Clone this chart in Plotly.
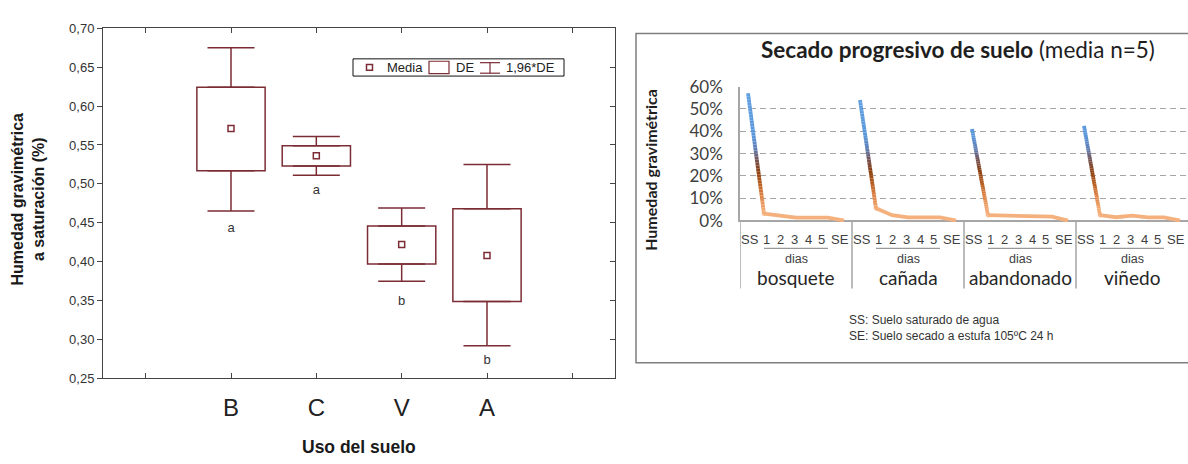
import plotly.graph_objects as go
import numpy as np

W, H = 1188, 464


def px(x):
    return x / W


def py(y):
    return 1 - y / H


# ---------------- Left panel data ----------------
uso = ["B", "C", "V", "A"]
media = [0.571, 0.536, 0.422, 0.408]
de_sup = [0.624, 0.549, 0.446, 0.468]
de_inf = [0.517, 0.523, 0.397, 0.349]
ic_sup = [0.675, 0.561, 0.469, 0.525]
ic_inf = [0.465, 0.511, 0.375, 0.292]
letras = ["a", "a", "b", "b"]
letras_y = [0.442, 0.491, 0.349, 0.273]
y_ticks = [0.25, 0.30, 0.35, 0.40, 0.45, 0.50, 0.55, 0.60, 0.65, 0.70]

# ---------------- Right panel data ----------------
grupos = ["bosquete", "cañada", "abandonado", "viñedo"]
etapas = ["SS", "1", "2", "3", "4", "5", "SE"]
bosquete = [57.0, 3.1, 2.1, 1.3, 1.3, 1.3, 0.0]
canada = [54.0, 5.5, 2.4, 1.4, 1.4, 1.4, 0.0]
abandonado = [41.0, 2.4, 2.2, 2.0, 2.0, 1.8, 0.0]
vinedo = [42.4, 2.4, 1.5, 2.2, 1.4, 1.4, 0.0]
series = [bosquete, canada, abandonado, vinedo]
pct_ticks = [0, 10, 20, 30, 40, 50, 60]

MAROON = "#7b2c34"

fig = go.Figure()

# ---- left: boxes (DE) as floating bars, whiskers (1,96*DE) as error bars
xpos = list(range(1, len(uso) + 1))
alto = [s - i for s, i in zip(de_sup, de_inf)]
fig.add_trace(go.Bar(
    x=xpos, y=alto, base=de_inf, width=0.8,
    marker=dict(color="rgba(0,0,0,0)", line=dict(color=MAROON, width=1.5)),
    xaxis="x", yaxis="y", showlegend=False, hoverinfo="skip"))
fig.add_trace(go.Scatter(
    x=xpos, y=de_sup, mode="markers", marker=dict(size=0.1, opacity=0),
    error_y=dict(type="data", symmetric=False,
                 array=[a - b for a, b in zip(ic_sup, de_sup)],
                 arrayminus=[0] * len(uso), color=MAROON, thickness=1.5, width=23.5),
    xaxis="x", yaxis="y", showlegend=False, hoverinfo="skip"))
fig.add_trace(go.Scatter(
    x=xpos, y=de_inf, mode="markers", marker=dict(size=0.1, opacity=0),
    error_y=dict(type="data", symmetric=False,
                 array=[0] * len(uso),
                 arrayminus=[b - a for a, b in zip(ic_inf, de_inf)],
                 color=MAROON, thickness=1.5, width=23.5),
    xaxis="x", yaxis="y", showlegend=False, hoverinfo="skip"))
fig.add_trace(go.Scatter(
    x=xpos, y=media, mode="markers",
    marker=dict(symbol="square-open", size=6, color=MAROON,
                line=dict(width=1.5, color=MAROON)),
    xaxis="x", yaxis="y", showlegend=False))
fig.add_trace(go.Scatter(
    x=xpos, y=letras_y, mode="text", text=letras,
    textfont=dict(family="Arial", size=13, color="#333333"),
    xaxis="x", yaxis="y", showlegend=False))
fig.add_trace(go.Scatter(x=[None], y=[None], xaxis="x", yaxis="y3",
                         showlegend=False))

# ---- right: gradient lines
stops_y = [0, 5, 11, 17, 22, 27, 32, 38, 60]
stops_rgb = np.array([
    (245, 183, 136), (242, 168, 112), (222, 132, 70), (178, 90, 30),
    (140, 64, 16), (118, 80, 78), (95, 125, 180), (88, 150, 218),
    (100, 162, 228)], dtype=float)


def grad_color(v):
    c = [np.interp(v, stops_y, stops_rgb[:, k]) for k in range(3)]
    return "rgb(%d,%d,%d)" % tuple(int(round(t)) for t in c)


LW = 3.8
n_etapas = len(etapas)
for g, vals in enumerate(series):
    xs = [g * n_etapas + i for i in range(n_etapas)]
    # steep first segment drawn in small pieces to mimic vertical gradient
    n = 40
    t = np.linspace(0, 1, n + 1)
    sx = xs[0] + (xs[1] - xs[0]) * t
    sy = vals[0] + (vals[1] - vals[0]) * t
    for k in range(n):
        fig.add_trace(go.Scatter(
            x=[sx[k], sx[k + 1]], y=[sy[k], sy[k + 1]], mode="lines",
            line=dict(color=grad_color((sy[k] + sy[k + 1]) / 2), width=LW),
            xaxis="x2", yaxis="y2", showlegend=False, hoverinfo="skip"))
    fig.add_trace(go.Scatter(
        x=xs[1:], y=vals[1:], mode="lines+markers",
        line=dict(color=grad_color(2), width=LW),
        marker=dict(size=[LW] + [0] * (n_etapas - 2), color=grad_color(vals[1])),
        xaxis="x2", yaxis="y2", showlegend=False, hoverinfo="skip"))

GRID = "#a6a6a6"
shapes = []
annotations = []

# left legend
shapes.append(dict(type="rect", xref="paper", yref="paper",
                   x0=px(353), x1=px(564), y0=py(50), y1=py(68),
                   line=dict(color="#111111", width=1)))
shapes.append(dict(type="rect", xref="paper", yref="paper",
                   x0=px(366.5), x1=px(372.5), y0=py(56), y1=py(62),
                   line=dict(color=MAROON, width=1.5)))
shapes.append(dict(type="rect", xref="paper", yref="paper",
                   x0=px(429), x1=px(449), y0=py(52.5), y1=py(65.5),
                   line=dict(color=MAROON, width=1.2)))
for (a0, b0, a1, b1) in [(480, 54, 500, 54), (490, 54, 490, 65), (480, 65, 500, 65)]:
    shapes.append(dict(type="line", xref="paper", yref="paper",
                       x0=px(a0), y0=py(b0), x1=px(a1), y1=py(b1),
                       line=dict(color=MAROON, width=1.2)))
for txt, xx in [("Media", 385), ("DE", 454), ("1,96*DE", 504)]:
    annotations.append(dict(text=txt, x=px(xx), y=py(59.5), xref="paper", yref="paper",
                            xanchor="left", yanchor="middle", showarrow=False,
                            font=dict(family="Arial", size=13, color="#222222")))

annotations.append(dict(text="<b>Uso del suelo</b>", x=px(359), y=py(456),
                        xref="paper", yref="paper", showarrow=False,
                        xanchor="center", yanchor="middle",
                        font=dict(family="Arial", size=17.5, color="#1a1a1a")))
annotations.append(dict(text="<b>Humedad gravimétrica<br>a saturación (%)</b>",
                        x=px(28), y=py(197), xref="paper", yref="paper",
                        showarrow=False, textangle=-90,
                        xanchor="center", yanchor="middle",
                        font=dict(family="Arial", size=16, color="#1a1a1a")))

# right panel frame
shapes.append(dict(type="rect", xref="paper", yref="paper",
                   x0=px(636), x1=px(1192), y0=py(23.5), y1=py(367.5),
                   line=dict(color="#7f7f7f", width=1.5), layer="below"))
annotations.append(dict(text="<b>Secado progresivo de suelo</b> (media n=5)",
                        x=px(958), y=py(40), xref="paper", yref="paper",
                        showarrow=False, xanchor="center", yanchor="middle",
                        font=dict(family="Lato", size=22.5, color="#1e1e1e")))
annotations.append(dict(text="<b>Humedad gravimétrica</b>", x=px(651), y=py(166),
                        xref="paper", yref="paper", showarrow=False, textangle=-90,
                        xanchor="center", yanchor="middle",
                        font=dict(family="Lato", size=16, color="#1e1e1e")))
for i, txt in enumerate(["SS: Suelo saturado de agua",
                         "SE: Suelo secado a estufa 105ºC 24 h"]):
    annotations.append(dict(text=txt, x=px(847), y=py(323 + 17 * i),
                            xref="paper", yref="paper", showarrow=False,
                            xanchor="left", yanchor="middle",
                            font=dict(family="Arial", size=12, color="#333333")))

# stage labels placed like the original single-line label "SS 1 2 3 4 5 SE"
label_offsets = [0.12, 1.18, 2.05, 2.9, 3.75, 4.62, 5.72]
for g, name in enumerate(grupos):
    x0 = g * n_etapas
    shapes.append(dict(type="line", xref="x2", yref="paper",
                       x0=x0 - 0.5, x1=x0 - 0.5, y0=py(219), y1=py(290),
                       line=dict(color=GRID, width=1.5)))
    shapes.append(dict(type="line", xref="x2", yref="paper",
                       x0=x0 + 1, x1=x0 + 5, y0=py(248), y1=py(248),
                       line=dict(color="#808080", width=1)))
    for lab, off in zip(etapas, label_offsets):
        annotations.append(dict(text=lab, x=x0 + off, y=py(239), xref="x2", yref="paper",
                                showarrow=False, xanchor="center", yanchor="middle",
                                font=dict(family="Arial", size=13, color="#404040")))
    annotations.append(dict(text="dias", x=x0 + 3, y=py(259), xref="x2", yref="paper",
                            showarrow=False, xanchor="center", yanchor="middle",
                            font=dict(family="Arial", size=12.5, color="#404040")))
    annotations.append(dict(text=name, x=x0 + 3, y=py(278), xref="x2", yref="paper",
                            showarrow=False, xanchor="center", yanchor="middle",
                            font=dict(family="Lato", size=19, color="#262626")))

fig.update_layout(
    width=W, height=H,
    margin=dict(l=0, r=0, t=0, b=0),
    paper_bgcolor="white", plot_bgcolor="rgba(0,0,0,0)",
    showlegend=False, barmode="overlay",
    shapes=shapes, annotations=annotations,
    xaxis=dict(domain=[px(103), px(615)], range=[-0.5, 5.5],
               tickvals=list(range(len(uso) + 2)), ticktext=[""] + uso + [""],
               ticks="inside", ticklen=5, tickcolor="#444444",
               showline=True, linecolor="#444444", linewidth=1, mirror="ticks",
               showgrid=False, zeroline=False, anchor="y",
               ticklabelstandoff=8,
               tickfont=dict(family="Arial", size=24, color="#222222")),
    yaxis=dict(domain=[py(384), py(18)], range=[0.25, 0.70],
               tickvals=y_ticks, ticktext=[("%.2f" % v).replace(".", ",") for v in y_ticks],
               ticks="outside", ticklen=5, tickcolor="#444444",
               showline=True, linecolor="#444444", linewidth=1, mirror=True,
               showgrid=False, zeroline=False, anchor="x",
               tickfont=dict(family="Arial", size=13, color="#333333")),
    yaxis3=dict(overlaying="y", side="right", anchor="x", range=[0.25, 0.70],
                tickvals=y_ticks, ticks="inside", ticklen=5, tickcolor="#444444",
                showticklabels=False, showline=False, showgrid=False, zeroline=False),
    xaxis2=dict(domain=[px(740), 1.0], range=[-0.5, 4 * n_etapas - 0.5],
                showticklabels=False,
                ticks="", showline=False, showgrid=False, zeroline=False,
                anchor="y2"),
    yaxis2=dict(domain=[py(220.4), py(79)], range=[-0.6, 60],
                tickvals=pct_ticks, ticktext=["%d%%" % v for v in pct_ticks],
                showgrid=True, gridcolor=GRID, griddash="6px,4px", gridwidth=1,
                zeroline=True, zerolinecolor=GRID, zerolinewidth=1.5,
                showline=True, linecolor=GRID, linewidth=1.5,
                ticks="", anchor="x2", ticklabelstandoff=12,
                tickfont=dict(family="Lato", size=17, color="#404040")),
)

fig.write_html("out.html")
